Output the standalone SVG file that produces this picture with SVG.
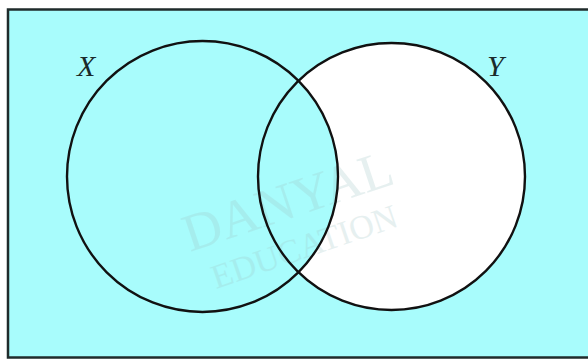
<svg xmlns="http://www.w3.org/2000/svg" width="588" height="360" viewBox="0 0 588 360">
  <style>
    .ring { fill: none; stroke: #111; stroke-width: 2.4; }
    .lbl { font-family: "Liberation Serif", "DejaVu Serif", serif; font-style: italic; font-size: 30px; fill: #1a2a2a; }
    .wm { font-family: "Liberation Serif", "DejaVu Serif", serif; fill: #9fc4c4; opacity: 0.25; }
  </style>
  <rect x="0" y="0" width="588" height="360" fill="#ffffff"/>
  <g id="universe">
    <rect x="8" y="9.5" width="600" height="348" fill="#a8fcfc" stroke="#1f2b2b" stroke-width="2.5"/>
  </g>
  <g id="setY">
    <circle cx="391.5" cy="176.5" r="133.5" fill="#ffffff"/>
  </g>
  <g id="setX">
    <circle cx="202.5" cy="176.5" r="135.5" fill="#a8fcfc"/>
  </g>
  <g id="watermark">
    <text class="wm" font-size="53" transform="translate(190,252) rotate(-18.5)">DANYAL</text>
    <text class="wm" font-size="34" transform="translate(216,289) rotate(-19)">EDUCATION</text>
  </g>
  <g id="connectors">
    <circle class="ring" cx="202.5" cy="176.5" r="135.5"/>
    <circle class="ring" cx="391.5" cy="176.5" r="133.5"/>
  </g>
  <g id="labelX"><text class="lbl" x="77" y="76">X</text></g>
  <g id="labelY"><text class="lbl" x="487" y="76">Y</text></g>
</svg>
